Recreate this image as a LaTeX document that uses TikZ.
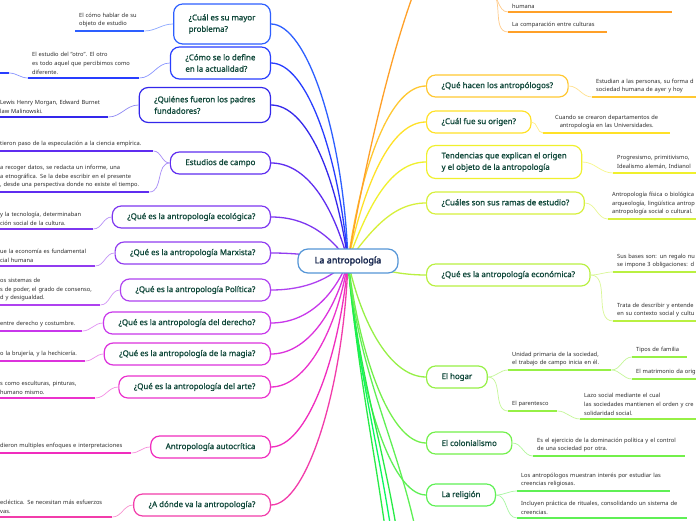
\documentclass[tikz,border=0pt]{standalone}
\usepackage{fontspec}
\setmainfont{Noto Sans}
\newfontfamily\topicfont{Noto Sans}[FakeBold=1.1]
\newfontfamily\hubfont{Noto Sans}[FakeBold=2.2]
\usepackage{tikz}
\usetikzlibrary{positioning,calc,backgrounds}
\usepackage{xcolor}
\definecolor{txtgreen}{RGB}{16,72,58}
\definecolor{txtnavy}{RGB}{22,38,78}
\definecolor{txtgray}{RGB}{45,45,45}
\definecolor{ctrblue}{RGB}{85,150,215}
% left side, blue to pink
\definecolor{cA}{RGB}{45,95,255}
\definecolor{cB}{RGB}{40,62,255}
\definecolor{cC}{RGB}{52,40,235}
\definecolor{cD}{RGB}{95,45,240}
\definecolor{cE}{RGB}{125,55,240}
\definecolor{cF}{RGB}{145,60,240}
\definecolor{cG}{RGB}{175,65,240}
\definecolor{cH}{RGB}{200,55,235}
\definecolor{cI}{RGB}{220,50,220}
\definecolor{cJ}{RGB}{235,50,205}
\definecolor{cK}{RGB}{240,45,190}
\definecolor{cL}{RGB}{242,60,170}
% right side, orange to green
\definecolor{cM}{RGB}{255,160,40}
\definecolor{cN}{RGB}{255,200,50}
\definecolor{cO}{RGB}{255,225,40}
\definecolor{cP}{RGB}{240,240,45}
\definecolor{cQ}{RGB}{215,240,60}
\definecolor{cR}{RGB}{185,240,65}
\definecolor{cS}{RGB}{150,240,70}
\definecolor{cT}{RGB}{115,240,75}
\definecolor{cU}{RGB}{95,240,85}
\definecolor{cV}{RGB}{40,235,70}
\definecolor{cW}{RGB}{10,248,95}

\begin{document}
\begin{tikzpicture}[x=1pt,y=1pt,
  topic/.style={draw=#1,line width=1.2pt,fill=white,rounded corners=9pt,
    minimum height=22pt,inner xsep=15pt,align=left,text=txtgreen,
    font=\topicfont\fontsize{7.9}{11.5}\selectfont},
  hub/.style={draw=ctrblue,line width=1.2pt,fill=white,rounded corners=10pt,
    minimum width=100pt,minimum height=24pt,text=txtnavy,
    font=\hubfont\fontsize{9}{10}\selectfont},
  leaf/.style={anchor=south west,inner xsep=4pt,inner ysep=3.5pt,align=left,
    text=txtgray,font=\fontsize{5.7}{8.7}\selectfont},
  link/.style={draw=#1,line width=1.3pt},
  twig/.style={draw=#1!55,line width=0.7pt},
  uline/.style={draw=#1,line width=2pt}]
  \useasboundingbox (0,0) rectangle (696,520);

  \node[hub] (hub) at (348,259) {La antropología};

  % left topics
  \node[topic=cA,anchor=east,minimum height=40pt] (mayor) at (271,496) {¿Cuál es su mayor\\problema?};
  \node[topic=cB,anchor=east,minimum height=32pt] (define) at (271,457) {¿Cómo se lo define\\en la actualidad?};
  \node[topic=cC,anchor=east,minimum height=35pt] (padres) at (271,415) {¿Quiénes fueron los padres\\fundadores?};
  \node[topic=cD,anchor=east] (campo) at (271,357) {Estudios de campo};
  \node[topic=cE,anchor=east] (ecologica) at (271,303) {¿Qué es la antropología ecológica?};
  \node[topic=cF,anchor=east] (marxista) at (271,267) {¿Qué es la antropología Marxista?};
  \node[topic=cG,anchor=east] (politica) at (271,230) {¿Qué es la antropología Política?};
  \node[topic=cH,anchor=east] (derecho) at (271,197) {¿Qué es la antropología del derecho?};
  \node[topic=cI,anchor=east] (magia) at (271,166) {¿Qué es la antropología de la magia?};
  \node[topic=cJ,anchor=east] (arte) at (271,133) {¿Qué es la antropología del arte?};
  \node[topic=cK,anchor=east] (autocritica) at (271,73) {Antropología autocrítica};
  \node[topic=cL,anchor=east] (adonde) at (271,15) {¿A dónde va la antropología?};

  % right topics
  \node[topic=cN,anchor=west] (hacen) at (426,434) {¿Qué hacen los antropólogos?};
  \node[topic=cO,anchor=west] (origen) at (426,398) {¿Cuál fue su origen?};
  \node[topic=cP,anchor=west,minimum height=33pt] (tendencias) at (426,358) {Tendencias que explican el origen\\y el objeto de la antropología};
  \node[topic=cQ,anchor=west] (ramas) at (426,317) {¿Cuáles son sus ramas de estudio?};
  \node[topic=cR,anchor=west] (economica) at (426,245) {¿Qué es la antropología económica?};
  \node[topic=cS,anchor=west] (hogar) at (426,143) {El hogar};
  \node[topic=cT,anchor=west] (colonial) at (426,77) {El colonialismo};
  \node[topic=cU,anchor=west] (religion) at (426,25) {La religión};

  % left leaves
  \node[leaf,text width=61pt] (mayor1) at (75,489) {El cómo hablar de su\\objeto de estudio};
  \node[leaf,text width=103pt] (define1) at (28,442) {El estudio del "otro". El otro\\es todo aquel que percibimos como\\diferente.};
  \node[leaf,text width=104pt] (padres1) at (-4,403) {Lewis Henry Morgan, Edward Burnet\\law Malinowski.};
  \node[leaf,text width=149pt] (campo1) at (-4,369) {tieron paso de la especulación a la ciencia empírica.};
  \node[leaf,text width=145pt] (campo2) at (-4,328) {a recoger datos, se redacta un informe, una\\a etnográfica. Se la debe escribir en el presente\\, desde una perspectiva donde no existe el tiempo.};
  \node[leaf,text width=89pt] (ecologica1) at (-4,291) {y la tecnología, determinaban\\ción social de la cultura.};
  \node[leaf,text width=91pt] (marxista1) at (-4,254) {ue la economía es fundamental\\cial humana};
  \node[leaf,text width=96pt] (politica1) at (-4,215) {os sistemas de\\s de poder, el grado de consenso,\\d y desigualdad.};
  \node[leaf,text width=78pt] (derecho1) at (-4,189) {entre derecho y costumbre.};
  \node[leaf,text width=81pt] (magia1) at (-4,159) {o la brujería, y la hechicería.};
  \node[leaf,text width=91pt] (arte1) at (-4,122) {s como esculturas, pinturas,\\humano mismo.};
  \node[leaf,text width=127pt] (autocritica1) at (-4,67) {dieron multiples enfoques e interpretaciones};
  \node[leaf,text width=108pt] (adonde1) at (-4,3) {ecléctica. Se necesitan más esfuerzos\\vas.};

  % right leaves
  \node[leaf,text width=156pt] (arriba1) at (508,508) {humana};
  \node[leaf,text width=91pt] (arriba2) at (508,488) {La comparación entre culturas};
  \node[leaf,text width=130pt] (hacen1) at (592,423) {Estudian a las personas, su forma d\\sociedad humana de ayer y hoy};
  \node[leaf,text width=119pt,align=center] (origen1) at (543,387) {Cuando se crearon departamentos de\\antropología en las Universidades.};
  \node[leaf,text width=110pt] (tendencias1) at (613,347) {Progresismo, primitivismo,\\Idealismo alemán, Indianol};
  \node[leaf,text width=115pt] (ramas1) at (608,301) {Antropología física o biológica\\arqueología, lingüística antrop\\antropología social o cultural.};
  \node[leaf,text width=110pt] (economica1) at (613,248) {Sus bases son: un regalo nu\\se impone 3 obligaciones: d};
  \node[leaf,text width=110pt] (economica2) at (613,199) {Trata de describir y entende\\en su contexto social y cultu};
  \node[leaf,text width=95pt] (hogar1) at (508,150) {Unidad primaria de la sociedad,\\el trabajo de campo inicia en él.};
  \node[leaf,text width=47pt] (hogar11) at (632,163) {Tipos de familia};
  \node[leaf,text width=90pt] (hogar12) at (632,141) {El matrimonio da orig};
  \node[leaf,text width=41pt] (hogar2) at (508,109) {El parentesco};
  \node[leaf,text width=140pt] (hogar21) at (580,101) {Lazo social mediante el cual\\las sociedades mantienen el orden y cre\\solidaridad social.};
  \node[leaf,text width=144pt] (colonial1) at (533,64) {Es el ejercicio de la dominación política y el control\\de una sociedad por otra.};
  \node[leaf,text width=145pt] (religion1) at (517,29) {Los antropólogos muestran interés por estudiar las\\creencias religiosas.};
  \node[leaf,text width=162pt] (religion2) at (517,2) {Incluyen práctica de rituales, consolidando un sistema de\\creencias.};

  % underlines
  \foreach \n/\c in {mayor1/cA,define1/cB,padres1/cC,campo1/cD,campo2/cD,
      ecologica1/cE,marxista1/cF,politica1/cG,derecho1/cH,magia1/cI,arte1/cJ,
      autocritica1/cK,adonde1/cL,arriba1/cM,arriba2/cM,hacen1/cN,origen1/cO,
      tendencias1/cP,ramas1/cQ,economica1/cR,economica2/cR,hogar1/cS,
      hogar11/cS,hogar12/cS,hogar2/cS,hogar21/cS,colonial1/cT,
      religion1/cU,religion2/cU}
    \draw[uline=\c] (\n.south west) -- (\n.south east);

  % leaf connectors, left
  \foreach \t/\n/\c in {mayor/mayor1/cA,define/define1/cB,padres/padres1/cC,
      campo/campo1/cD,campo/campo2/cD,ecologica/ecologica1/cE,
      marxista/marxista1/cF,politica/politica1/cG,derecho/derecho1/cH,
      magia/magia1/cI,arte/arte1/cJ,autocritica/autocritica1/cK,
      adonde/adonde1/cL}
    \draw[twig=\c] (\t.west) to[out=180,in=0] (\n.south east);
  \coordinate (stubL) at (-6,447);
  \coordinate (stubR) at (9,447);
  \draw[uline=cB] (stubL) -- (stubR);
  \draw[twig=cB] (define1.south west) to[out=180,in=0] (stubR);

  % leaf connectors, right
  \coordinate (arriba) at (488,528);
  \foreach \t/\n/\c in {arriba/arriba1/cM,arriba/arriba2/cM,hacen/hacen1/cN,
      origen/origen1/cO,tendencias/tendencias1/cP,ramas/ramas1/cQ,
      economica/economica1/cR,economica/economica2/cR,hogar/hogar1/cS,
      hogar/hogar2/cS,colonial/colonial1/cT,religion/religion1/cU,
      religion/religion2/cU}
    \draw[twig=\c] (\t.east) to[out=0,in=180] (\n.south west);
  \draw[twig=cS] (hogar1.south east) to[out=0,in=180] (hogar11.south west);
  \draw[twig=cS] (hogar1.south east) to[out=0,in=180] (hogar12.south west);
  \draw[twig=cS] (hogar2.south east) to[out=0,in=180] (hogar21.south west);

  % main links
  \coordinate (arribaT) at (462,600);
  \coordinate (abajo1) at (392,-60);
  \coordinate (abajo2) at (398,-60);
  \coordinate (abajo3) at (404,-60);
  \coordinate (abajo4) at (425,-65);
  \begin{scope}[on background layer]
    \fill[white] (0,0) rectangle (696,520);
    \foreach \t/\c/\a/\d in {mayor/cA/92/130pt,define/cB/95/110pt,
        padres/cC/98/90pt,campo/cD/105/60pt,ecologica/cE/125/32pt,
        marxista/cF/172/20pt,politica/cG/225/25pt,derecho/cH/248/40pt,
        magia/cI/256/55pt,arte/cJ/261/70pt,autocritica/cK/265/100pt,
        adonde/cL/268/130pt}
      \draw[link=\c] (hub.center) to[out=\a,in=0,out distance=\d,in distance=35pt] (\t.east);
    \foreach \t/\c/\a/\d in {hacen/cN/82/100pt,origen/cO/78/80pt,
        tendencias/cP/70/60pt,ramas/cQ/52/35pt,economica/cR/-12/20pt,
        hogar/cS/-78/65pt,colonial/cT/-83/100pt,religion/cU/-86/130pt}
      \draw[link=\c] (hub.center) to[out=\a,in=180,out distance=\d,in distance=35pt] (\t.west);
    \draw[link=cM] (hub.center) to[out=80,in=180,out distance=150pt,in distance=40pt] (arribaT);
    \foreach \e/\c in {abajo1/cV,abajo2/cW,abajo3/cV,abajo4/cU}
      \draw[link=\c] (hub.center) to[out=-85,in=97] (\e);
  \end{scope}
\end{tikzpicture}
\end{document}
